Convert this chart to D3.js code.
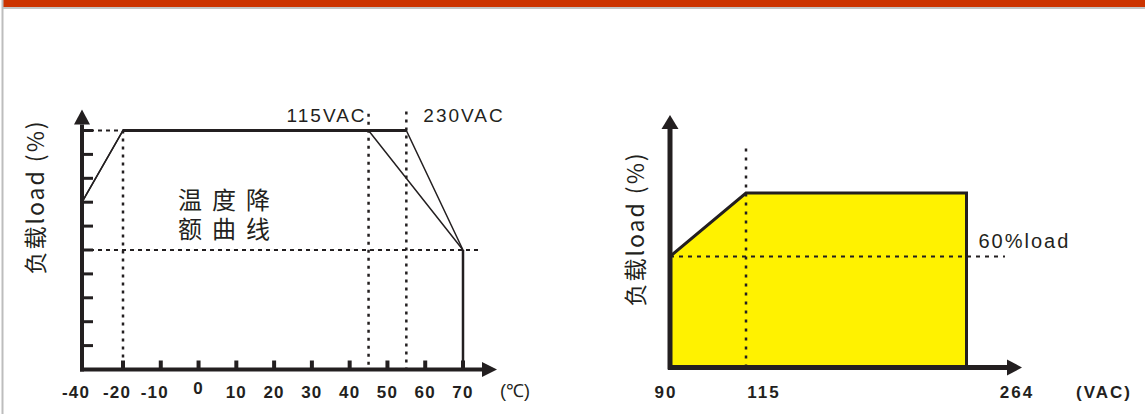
<!DOCTYPE html>
<html>

<head>
    <meta charset="utf-8">
    <style>
        body {
            margin: 0;
            background: #fff;
        }

        .latin {
            font-family: "Liberation Sans", Arial, sans-serif;
        }

        .cjk {
            font-family: "Noto Sans CJK SC", sans-serif;
        }
    </style>
</head>

<body>
    <div id="chart"></div>

    <script src="https://cdnjs.cloudflare.com/ajax/libs/d3/7.8.5/d3.min.js"></script>
    <script>
        // ---- data: temperature derating (left) ----
        const tempTickValues = [-40, -20, -10, 0, 10, 20, 30, 40, 50, 60, 70];
        const loadTickValues = [10, 20, 30, 40, 50, 60, 70, 80, 90, 100];
        const curve115 = [[-40, 70], [-20, 100], [45, 100], [70, 50]];
        const curve230 = [[-40, 70], [-20, 100], [55, 100], [70, 50]];
        const flatPart = [[-20, 100], [55, 100]];
        const cutOff = [[70, 50], [70, 0]];
        const guideFull = [[-40, 100], [-20, 100]];
        const guideHalf = [[-40, 50], [75, 50]];
        const guideMinus20 = [[-20, 100], [-20, 0]];
        const guide115 = [[45, 107], [45, 0]];
        const guide230 = [[55, 108], [55, 0]];
        const voltLabels = ["115VAC", "230VAC"];
        const chartTitle = ["温度降", "额曲线"];
        const yTitle = "负载load (%)";
        const tempUnit = "(℃)";

        // ---- data: input voltage derating (right) ----
        const voltTickValues = [90, 115, 264];
        const voltArea = [[90, 0], [90, 60], [115, 100], [264, 100], [264, 0]];
        const guide60 = [[90, 60], [290, 60]];
        const guideV115 = [[115, 128], [115, 0]];
        const loadNote = "60%load";
        const voltUnit = "(VAC)";

        const W = 1145, H = 414;
        const ink = "#231f20";

        const svg = d3.select("#chart").append("svg")
            .attr("width", W)
            .attr("height", H);

        // page frame: red band, grey rule, grey left border
        svg.append("rect").attr("x", 3).attr("y", 0).attr("width", W).attr("height", 7).attr("fill", "#cc3300");
        svg.append("rect").attr("x", 3).attr("y", 7).attr("width", W).attr("height", 2).attr("fill", "#c4c4c4");
        svg.append("rect").attr("x", 1.5).attr("y", 0).attr("width", 2).attr("height", H).attr("fill", "#bdbdbd");

        // ---------- left chart ----------
        const xL = d3.scaleLinear().domain([-40, -20, 70]).range([82, 123, 463]);
        const yL = d3.scaleLinear().domain([0, 100]).range([369.5, 130.5]);
        const lineL = d3.line().x(d => xL(d[0])).y(d => yL(d[1]));

        const left = svg.append("g");

        // guides
        left.append("path").attr("d", lineL(guideFull)).attr("fill", "none")
            .attr("stroke", ink).attr("stroke-width", 2).attr("stroke-dasharray", "4,4");
        left.append("path").attr("d", lineL(guideHalf)).attr("fill", "none")
            .attr("stroke", ink).attr("stroke-width", 2).attr("stroke-dasharray", "4,4");
        [guideMinus20, guide115, guide230].forEach(g => {
            left.append("path").attr("d", lineL(g)).attr("fill", "none")
                .attr("stroke", ink).attr("stroke-width", 2.5).attr("stroke-dasharray", "3,5");
        });

        // derating curves
        [curve115, curve230].forEach(c => {
            left.append("path").attr("d", lineL(c)).attr("fill", "none")
                .attr("stroke", ink).attr("stroke-width", 1.5);
        });
        left.append("path").attr("d", lineL(flatPart)).attr("fill", "none")
            .attr("stroke", ink).attr("stroke-width", 3);
        left.append("path").attr("d", lineL(cutOff)).attr("fill", "none")
            .attr("stroke", ink).attr("stroke-width", 2.5);

        // axes
        const x0L = xL(-40), y0L = yL(0);
        const xEndL = xL(70) + 19, yEndL = yL(100) - 6;
        left.append("line").attr("x1", x0L - 2).attr("x2", xEndL).attr("y1", y0L).attr("y2", y0L)
            .attr("stroke", ink).attr("stroke-width", 4);
        left.append("path").attr("d", `M${xEndL},${y0L - 7.5}L${xEndL + 15},${y0L}L${xEndL},${y0L + 7.5}Z`).attr("fill", ink);
        left.append("line").attr("x1", x0L).attr("x2", x0L).attr("y1", y0L + 2).attr("y2", yEndL)
            .attr("stroke", ink).attr("stroke-width", 4);
        left.append("path").attr("d", `M${x0L - 8},${yEndL}L${x0L},${yEndL - 15}L${x0L + 8},${yEndL}Z`).attr("fill", ink);

        left.selectAll(".ytick").data(loadTickValues).join("line")
            .attr("x1", x0L).attr("x2", x0L + 11)
            .attr("y1", d => yL(d)).attr("y2", d => yL(d))
            .attr("stroke", ink).attr("stroke-width", 3);
        left.selectAll(".xtick").data(tempTickValues.filter(d => d > -40)).join("line")
            .attr("x1", d => xL(d)).attr("x2", d => xL(d))
            .attr("y1", y0L).attr("y2", y0L - 9)
            .attr("stroke", ink).attr("stroke-width", 4);

        left.selectAll(".xlab").data(tempTickValues).join("text")
            .attr("class", "latin")
            .attr("x", d => xL(d) + (d < 0 ? -6 : 0))
            .attr("y", d => d === 0 ? y0L + 24 : y0L + 28)
            .attr("text-anchor", "middle")
            .attr("font-size", 17).attr("font-weight", "bold").attr("letter-spacing", 1.2)
            .attr("fill", ink)
            .text(d => d);
        left.append("text").attr("class", "latin")
            .attr("x", xL(70) + 52).attr("y", y0L + 27)
            .attr("text-anchor", "middle").attr("font-size", 18).attr("fill", ink)
            .text(tempUnit);

        left.append("text").attr("class", "latin")
            .attr("x", xL(45) - 2).attr("y", yL(100) - 9)
            .attr("text-anchor", "end").attr("font-size", 19).attr("letter-spacing", 2)
            .attr("fill", ink).text(voltLabels[0]);
        left.append("text").attr("class", "latin")
            .attr("x", xL(55) + 17).attr("y", yL(100) - 9)
            .attr("text-anchor", "start").attr("font-size", 19).attr("letter-spacing", 2)
            .attr("fill", ink).text(voltLabels[1]);

        // two-line title
        left.selectAll(".title").data(chartTitle).join("text")
            .attr("class", "cjk")
            .attr("x", 229).attr("y", (d, i) => 209 + i * 29)
            .attr("text-anchor", "middle").attr("font-size", 24).attr("letter-spacing", 10)
            .attr("fill", ink).text(d => d);

        left.append("text").attr("class", "cjk")
            .attr("transform", `translate(44,${197}) rotate(-90)`)
            .attr("text-anchor", "middle").attr("font-size", 23).attr("letter-spacing", 2)
            .attr("fill", ink).text(yTitle);

        // ---------- right chart ----------
        const xR = d3.scaleLinear().domain([90, 115, 264]).range([670, 746, 966.5]);
        const yR = d3.scaleLinear().domain([0, 60, 100]).range([367.5, 256.5, 193]);
        const xRLabel = d3.scaleLinear().domain([90, 115, 264]).range([666, 764, 1017]);
        const lineR = d3.line().x(d => xR(d[0])).y(d => yR(d[1]));

        const right = svg.append("g");

        right.append("path").attr("d", lineR(voltArea) + "Z")
            .attr("fill", "#fff200").attr("stroke", ink).attr("stroke-width", 3)
            .attr("stroke-linejoin", "miter");
        right.append("path").attr("d", lineR(guide60)).attr("fill", "none")
            .attr("stroke", ink).attr("stroke-width", 2).attr("stroke-dasharray", "4,5");
        right.append("path").attr("d", lineR(guideV115)).attr("fill", "none")
            .attr("stroke", ink).attr("stroke-width", 2.5).attr("stroke-dasharray", "3,6");

        const x0R = xR(90), y0R = yR(0);
        const xEndR = 1007, yEndR = 129;
        right.append("line").attr("x1", x0R - 2).attr("x2", xEndR).attr("y1", y0R).attr("y2", y0R)
            .attr("stroke", ink).attr("stroke-width", 5);
        right.append("path").attr("d", `M${xEndR},${y0R - 8}L${xEndR + 15},${y0R}L${xEndR},${y0R + 8}Z`).attr("fill", ink);
        right.append("line").attr("x1", x0R).attr("x2", x0R).attr("y1", y0R + 2).attr("y2", yEndR)
            .attr("stroke", ink).attr("stroke-width", 5);
        right.append("path").attr("d", `M${x0R - 8.5},${yEndR}L${x0R},${yEndR - 14}L${x0R + 8.5},${yEndR}Z`).attr("fill", ink);

        right.selectAll(".xlab").data(voltTickValues).join("text")
            .attr("class", "latin")
            .attr("x", d => xRLabel(d)).attr("y", y0R + 30)
            .attr("text-anchor", "middle")
            .attr("font-size", 17).attr("font-weight", "bold").attr("letter-spacing", 2)
            .attr("fill", ink).text(d => d);
        right.append("text").attr("class", "latin")
            .attr("x", 1104).attr("y", y0R + 30)
            .attr("text-anchor", "middle").attr("font-size", 17).attr("font-weight", "bold").attr("letter-spacing", 2)
            .attr("fill", ink).text(voltUnit);

        right.append("text").attr("class", "latin")
            .attr("x", xR(264) + 12).attr("y", yR(60) - 9)
            .attr("font-size", 20).attr("letter-spacing", 2)
            .attr("fill", ink).text(loadNote);

        right.append("text").attr("class", "cjk")
            .attr("transform", `translate(644,${229}) rotate(-90)`)
            .attr("text-anchor", "middle").attr("font-size", 23).attr("letter-spacing", 2)
            .attr("fill", ink).text(yTitle);
    </script>
</body>

</html>
